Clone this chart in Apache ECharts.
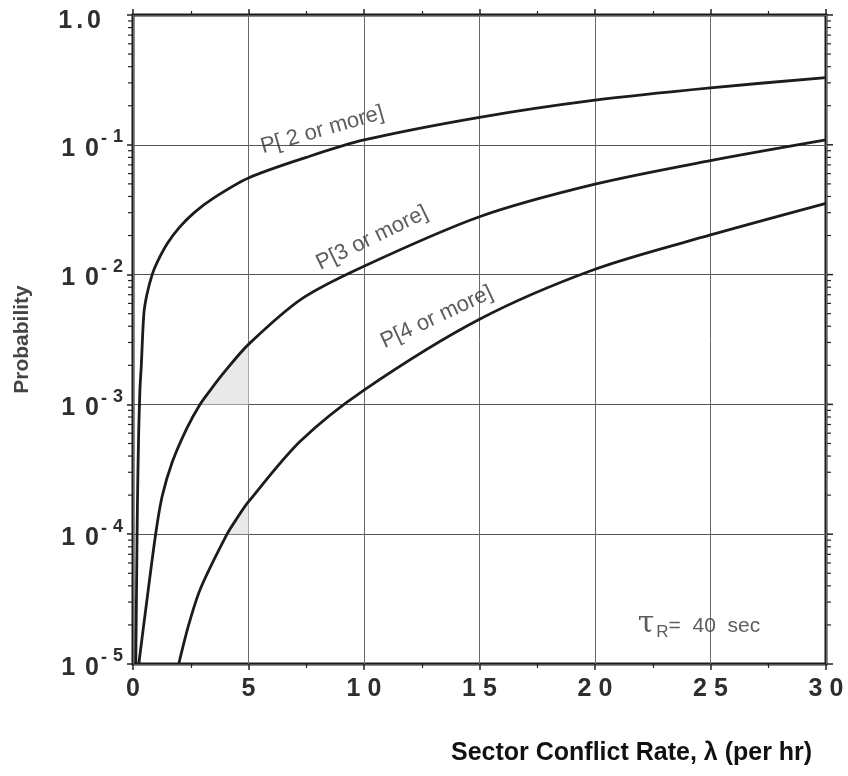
<!DOCTYPE html>
<html><head><meta charset="utf-8">
<script src="https://cdn.jsdelivr.net/npm/echarts@6/dist/echarts.min.js"></script>
<style>html,body{margin:0;padding:0;background:#fff}#c{width:848px;height:776px}</style>
</head><body><div id="c"></div>
<script>
// ---- axis ticks ----
const xTicks = [0, 5, 10, 15, 20, 25, 30];
const xTickLabels = ['0', '5', '10', '15', '20', '25', '30'];
const yDecades = [1e-5, 1e-4, 1e-3, 1e-2, 1e-1, 1];
const yMinorMult = [2, 3, 4, 5, 6, 7, 8, 9];

// ---- curves ----
const p2X = [0.12, 0.16, 0.19, 0.24, 0.30, 0.36, 0.47, 0.60, 0.83, 1.05, 1.5, 2.0, 2.65, 3.5, 5, 7.5, 10, 15, 20, 25, 30];
const p2Y = [1e-5, 5e-5, 1.6e-4, 5.4e-4, 1.3e-3, 2.0e-3, 5.0e-3, 7.0e-3, 1.0e-2, 1.25e-2, 1.75e-2, 2.3e-2, 3.0e-2, 3.9e-2, 5.55e-2, 8.0e-2, 0.109, 0.163, 0.221, 0.275, 0.329];

const p3X = [0.25, 0.57, 0.98, 1.26, 1.7, 2.34, 2.9, 3.35, 3.95, 5, 7.3, 10, 15, 20, 25, 30];
const p3Y = [1e-5, 2.8e-5, 1e-4, 1.95e-4, 3.6e-4, 6.6e-4, 1e-3, 1.29e-3, 1.77e-3, 2.9e-3, 6.5e-3, 0.0116, 0.0279, 0.0497, 0.0755, 0.109];

const p4X = [1.98, 2.41, 2.92, 4.07, 4.53, 5, 7.24, 10, 15, 20, 25, 30];
const p4Y = [1e-5, 2.0e-5, 3.8e-5, 1e-4, 1.35e-4, 1.78e-4, 5.2e-4, 1.29e-3, 4.53e-3, 0.011, 0.0202, 0.0354];

// shaded regions: bounded by curve, horizontal base and vertical x limit
const shadeBase = [1e-3, 1e-4];
const shadeXEnd = [5, 5];

// annotations
const curveLabels = ['P[ 2 or more]', 'P[3 or more]', 'P[4 or more]'];
const curveLabelX = [8.2, 10.35, 13.15];
const curveLabelY = [0.13, 0.0191, 0.0047];
const curveLabelRot = [16, 26, 25];
const tauX = 24.5, tauY = 2.0e-5;

const FONT = '"Liberation Sans", Arial, Helvetica, sans-serif';
const INK = '#2e2e2e';
const zip = (xs, ys) => xs.map((x, i) => [x, ys[i]]);
const curves = [zip(p2X, p2Y), zip(p3X, p3Y), zip(p4X, p4Y)];

const yMinorTicks = [];
yDecades.slice(0, -1).forEach(d => yMinorMult.forEach(m => yMinorTicks.push(d * m)));

const chart = echarts.init(document.getElementById('c'));

const lineSeries = curves.map(data => ({
  type: 'line', data, smooth: 0.3, symbol: 'none', z: 5,
  lineStyle: { color: '#1c1c1c', width: 2.8 }
}));

const big = { fontFamily: FONT, fontSize: 25, fontWeight: 'bold', color: INK, verticalAlign: 'bottom' };
const sup = { fontFamily: FONT, fontSize: 18, fontWeight: 'bold', color: INK, verticalAlign: 'bottom' };

const option = {
  backgroundColor: '#fff',
  animation: false,
  grid: { left: 133, right: 22, top: 15, bottom: 112, show: true, borderColor: '#1a1a1a', borderWidth: 3, backgroundColor: 'transparent' },
  title: {
    text: 'Sector Conflict Rate, \u03bb (per hr)', left: 446, top: 736,
    textStyle: { fontFamily: FONT, fontSize: 25, fontWeight: 'bold', color: '#111' }
  },
  xAxis: [{
    type: 'value', min: 0, max: 30, interval: 5,
    axisLine: { show: false },
    axisTick: { show: true, inside: false, length: 6, lineStyle: { color: '#222', width: 1.5 } },
    minorTick: { show: true, splitNumber: 2, length: 4, lineStyle: { color: '#222', width: 1.2 } },
    splitLine: { show: true, lineStyle: { color: '#6a6a6a', width: 1 } },
    axisLabel: {
      margin: 13, color: INK,
      formatter: v => {
        const i = xTicks.indexOf(v);
        if (i < 0) return '';
        const s = xTickLabels[i];
        return s.length === 1 ? '{a|' + s + '}' : '{a|' + s[0] + '}{g|' + s[1] + '}';
      },
      rich: { a: Object.assign({}, big), g: Object.assign({}, big, { padding: [0, 0, 0, 7] }) }
    }
  }, {
    type: 'value', min: 0, max: 30, interval: 5, position: 'top',
    axisLine: { show: false },
    axisTick: { show: true, inside: false, length: 6, lineStyle: { color: '#222', width: 1.5 } },
    minorTick: { show: true, splitNumber: 2, length: 4, lineStyle: { color: '#222', width: 1.2 } },
    splitLine: { show: false }, axisLabel: { show: false }
  }],
  yAxis: [{
    type: 'log', logBase: 10, min: 1e-5, max: 1,
    name: 'Probability', nameLocation: 'middle', nameGap: 100, nameRotate: 90,
    nameTextStyle: { fontFamily: FONT, fontSize: 21, fontWeight: 'bold', color: '#444' },
    axisLine: { show: false },
    axisTick: { show: true, inside: false, length: 6, lineStyle: { color: '#222', width: 1.5 } },
    splitLine: { show: true, lineStyle: { color: '#555', width: 1 } },
    axisLabel: {
      margin: 10, color: INK,
      formatter: v => {
        const e = Math.round(Math.log10(v));
        if (e === 0) return '{t1|1}{tdot|.}{t0|0}{tsp|}';
        return '{one|1}{zero|0}{d|-}{e|' + (-e) + '}';
      },
      rich: {
        one: Object.assign({}, big),
        zero: Object.assign({}, big, { padding: [0, 0, 0, 10] }),
        d: Object.assign({}, sup, { padding: [0, 0, 13, 2] }),
        e: Object.assign({}, sup, { padding: [0, 0, 15, 6] }),
        t1: Object.assign({}, big, { padding: [13, 0, 0, 0] }),
        tdot: Object.assign({}, big, { padding: [13, 0, 0, 4] }),
        t0: Object.assign({}, big, { padding: [13, 0, 0, 4] }),
        tsp: { width: 22, verticalAlign: 'bottom' }
      }
    }
  }],
  series: [
    {
      type: 'custom', z: 1, silent: true, clip: false,
      data: shadeBase.map((b, i) => [i]),
      renderItem: (params, api) => {
        const i = params.dataIndex;
        const c = curves[i + 1];
        const base = shadeBase[i], xe = shadeXEnd[i];
        const pts = c.filter(p => p[1] >= base && p[0] <= xe).map(p => api.coord(p));
        pts.push(api.coord([xe, base]));
        return { type: 'polygon', shape: { points: pts }, style: { fill: '#e9e9e9' } };
      }
    },
    ...lineSeries,
    {
      type: 'custom', z: 6, silent: true, clip: false,
      data: yMinorTicks.map(v => [v]),
      renderItem: (params, api) => {
        const v = api.value(0);
        const l = api.coord([0, v]), r = api.coord([30, v]);
        const st = { stroke: '#222', lineWidth: 1.2 };
        return { type: 'group', children: [
          { type: 'line', shape: { x1: l[0] - 1, y1: l[1], x2: l[0] - 5, y2: l[1] }, style: st },
          { type: 'line', shape: { x1: r[0] + 1, y1: r[1], x2: r[0] + 5, y2: r[1] }, style: st }
        ] };
      }
    },
    {
      type: 'custom', z: 6, silent: true, clip: false,
      data: yDecades.map(v => [v]),
      renderItem: (params, api) => {
        const v = api.value(0);
        const r = api.coord([30, v]);
        return { type: 'line', shape: { x1: r[0] + 1, y1: r[1], x2: r[0] + 7, y2: r[1] }, style: { stroke: '#222', lineWidth: 1.5 } };
      }
    },
    {
      type: 'scatter', symbolSize: 0, z: 7, silent: true,
      data: curveLabels.map((t, i) => ({
        value: [curveLabelX[i], curveLabelY[i]],
        label: { show: true, formatter: t, rotate: curveLabelRot[i], position: 'inside',
          fontFamily: FONT, fontSize: 22, color: '#333' }
      }))
    },
    {
      type: 'scatter', symbolSize: 0, z: 7, silent: true,
      data: [{ value: [tauX, tauY] }],
      label: {
        show: true, position: 'inside',
        formatter: '{t|\u03c4}{r|R}{s|=  40  sec}',
        rich: {
          t: { fontFamily: '"DejaVu Serif", serif', fontSize: 30, color: '#333', verticalAlign: 'bottom', padding: [0, 0, 2, 0] },
          r: { fontFamily: FONT, fontSize: 17, color: '#333', verticalAlign: 'bottom', padding: [0, 0, 0, 2] },
          s: { fontFamily: FONT, fontSize: 21, color: '#333', verticalAlign: 'bottom', padding: [0, 0, 4, 0] }
        }
      }
    }
  ]
};
chart.setOption(option);
</script></body></html>
